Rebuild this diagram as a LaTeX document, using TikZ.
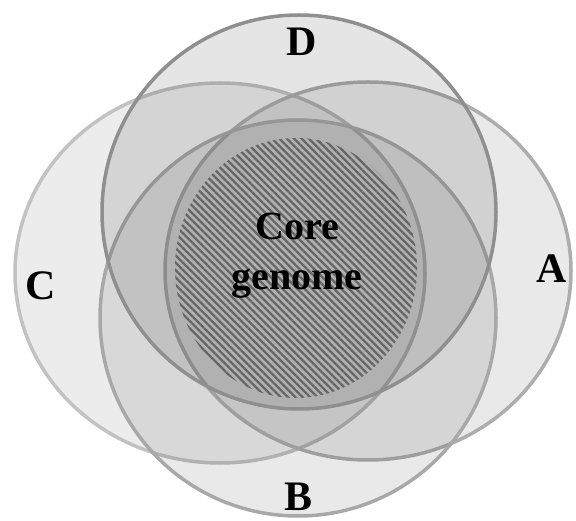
\documentclass[tikz,border=0pt]{standalone}
\usepackage{fontspec}
\setmainfont{Liberation Serif}
\usetikzlibrary{patterns.meta}
\tikzstyle{myset} = [fill=black, fill opacity=0.085, line width=3.5pt]
\tikzstyle{coreset} = [pattern={Lines[angle=-45, distance=5.2pt, line width=2.3pt]},
    pattern color=black!60]
\tikzstyle{setlabel} = [font=\fontsize{42}{50}\selectfont\bfseries, inner sep=0pt]
\tikzstyle{coretitle} = [font=\fontsize{40}{50}\selectfont\bfseries, align=center, inner sep=0pt]

\begin{document}
\begin{tikzpicture}[x=1pt, y=-1pt]
    \useasboundingbox (0,0) rectangle (576,521);
    % the four sets
    \draw[myset, fill opacity=0.075, draw=black!24] (220,273) ellipse [x radius=205pt, y radius=190pt];
    \draw[myset, draw=black!32] (368,271) ellipse [x radius=203pt, y radius=189pt];
    \draw[myset, draw=black!34] (298,318) circle [radius=198pt];
    \draw[myset, fill opacity=0.1, draw=black!44] (299,212) circle [radius=197pt];
    % shared part
    \fill[coreset] (296,268) ellipse [x radius=121pt, y radius=130pt];
    \node[coretitle] (core) at (297,256) {Core\\genome};
    \node[setlabel] (labA) at (552,269) {A};
    \node[setlabel] (labB) at (299,497) {B};
    \node[setlabel] (labC) at (41,286) {C};
    \node[setlabel] (labD) at (302,42) {D};
\end{tikzpicture}
\end{document}
